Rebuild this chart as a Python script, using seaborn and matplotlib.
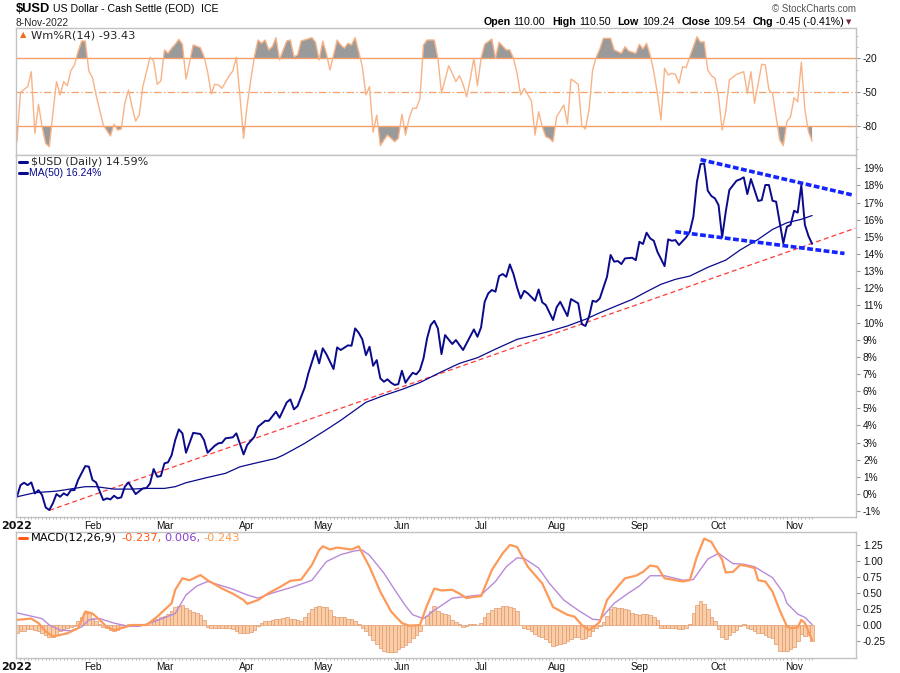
import numpy as np
import pandas as pd
import matplotlib
matplotlib.use("Agg")
import matplotlib.pyplot as plt
from matplotlib.lines import Line2D
import seaborn as sns

W, H = 900, 673

# trading sessions on the chart (x axis = session number)
sessions = pd.bdate_range("2022-01-03", "2022-11-08")
month_names = ["2022", "Feb", "Mar", "Apr", "May", "Jun", "Jul", "Aug", "Sep", "Oct", "Nov"]

# $USD (Daily), % change since first session
usd_day = [0, 1, 2, 3, 4, 5, 6, 7, 8, 9,
           10, 11, 12, 13, 14, 15, 16, 17, 19, 20,
           21, 22, 24, 25, 26, 27, 28, 29, 30, 31,
           33, 35, 36, 37, 38, 39, 40, 41, 42, 43,
           44, 45, 46, 47, 48, 49, 51, 52, 53, 55,
           56, 57, 58, 60, 61, 63, 64, 66, 67, 69,
           70, 72, 73, 75, 76, 77, 78, 80, 81, 83,
           84, 85, 86, 88, 89, 90, 92, 93, 94, 95,
           96, 97, 98, 99, 100, 101, 102, 103, 104, 105,
           106, 107, 108, 109, 110, 111, 112, 113, 114, 115,
           116, 117, 118, 119, 121, 122, 124, 127, 128, 129,
           130, 131, 132, 133, 134, 135, 136, 137, 138, 139,
           140, 141, 142, 144, 145, 146, 147, 149, 150, 151,
           153, 154, 156, 157, 158, 159, 160, 161, 162, 164,
           165, 166, 167, 168, 169, 171, 172, 173, 174, 175,
           176, 177, 178, 180, 181, 182, 183, 184, 186, 187,
           188, 189, 190, 191, 192, 193, 194, 195, 196, 197,
           198, 200, 201, 202, 203, 204, 206, 207, 208, 209,
           210, 211, 213, 214, 215, 216, 217, 218, 219, 220,
           221]
usd_pct = [-0.16, 0.52, 0.66, 0.52, 0.68, 0.04, 0.23, -0.06, -0.78, -0.93,
           -0.54, 0.00, -0.16, 0.04, -0.08, 0.23, 0.23, 0.82, 1.63, 1.60,
           0.82, 0.68, -0.35, -0.25, -0.31, -0.10, -0.25, -0.19, 0.43, 0.68,
           0.00, 0.33, 0.35, 0.62, 1.46, 1.01, 1.05, 1.79, 1.85, 2.27,
           3.15, 3.77, 3.54, 2.41, 2.99, 3.57, 3.50, 3.15, 2.41, 2.82,
           2.96, 2.99, 3.25, 3.31, 3.54, 2.31, 2.86, 3.34, 3.92, 4.27,
           4.27, 4.80, 4.45, 5.35, 5.52, 4.94, 5.13, 6.22, 7.04, 8.36,
           7.62, 8.50, 8.16, 7.29, 8.55, 8.40, 8.67, 8.65, 9.66, 9.40,
           9.02, 8.10, 8.59, 7.48, 7.81, 6.75, 6.55, 6.69, 6.49, 6.36,
           6.41, 7.19, 6.49, 6.80, 7.07, 6.98, 7.23, 7.91, 9.08, 9.85,
           10.10, 9.66, 8.16, 9.27, 8.75, 8.98, 8.40, 9.60, 9.17, 9.72,
           11.21, 11.70, 11.90, 11.80, 12.71, 12.83, 12.67, 13.39, 12.83, 12.05,
           11.41, 11.85, 11.70, 11.27, 11.93, 11.18, 11.02, 10.15, 10.89, 11.21,
           10.38, 11.37, 11.12, 9.91, 9.80, 10.34, 11.27, 11.21, 11.41, 12.67,
           13.94, 13.55, 13.59, 13.41, 13.74, 13.78, 13.64, 14.71, 14.58, 15.24,
           14.91, 14.77, 14.13, 13.29, 14.85, 14.77, 14.81, 14.52, 14.97, 15.29,
           16.17, 18.22, 19.24, 19.28, 17.69, 17.38, 17.24, 16.85, 14.97, 16.46,
           17.73, 18.27, 18.35, 18.47, 17.49, 18.37, 17.09, 17.14, 18.02, 18.02,
           17.10, 17.05, 14.62, 15.59, 15.69, 16.52, 16.41, 18.02, 15.69, 15.04,
           14.59]

# MA(50) of the same
ma_day = [0, 5, 11, 19, 22, 27, 32, 36, 41, 44,
          47, 53, 58, 62, 66, 72, 74, 77, 80, 86,
          90, 94, 97, 102, 107, 112, 118, 123, 128, 133,
          139, 147, 153, 158, 162, 166, 171, 175, 179, 183,
          187, 192, 197, 201, 206, 210, 214, 218, 221]
ma_pct = [-0.16, 0.08, 0.17, 0.43, 0.43, 0.29, 0.29, 0.33, 0.33, 0.43,
          0.66, 0.97, 1.21, 1.59, 1.79, 2.08, 2.27, 2.61, 2.96, 3.75,
          4.30, 4.90, 5.35, 5.75, 6.10, 6.50, 7.13, 7.62, 7.95, 8.45,
          9.02, 9.43, 9.80, 10.19, 10.57, 10.92, 11.35, 11.80, 12.23, 12.52,
          12.71, 13.22, 13.64, 14.23, 14.85, 15.43, 15.82, 16.02, 16.24]

# drawn trend lines (session, %)
red_day, red_pct = [9, 233], [-0.95, 15.5]
top_day, top_pct = [190, 232], [19.5, 17.45]
bot_day, bot_pct = [183, 230], [15.3, 14.03]

# Williams %R (14)
wmr_day = [0, 1, 3, 4, 5, 6, 7, 8, 9, 10,
           11, 12, 13, 14, 15, 16, 17, 18, 19, 20,
           21, 22, 24, 26, 27, 28, 29, 30, 31, 32,
           33, 34, 35, 36, 37, 38, 39, 40, 41, 42,
           43, 44, 45, 46, 47, 48, 49, 51, 52, 53,
           54, 55, 56, 57, 59, 60, 61, 62, 63, 64,
           65, 66, 67, 68, 69, 70, 71, 72, 73, 74,
           75, 76, 77, 78, 79, 82, 83, 84, 85, 86,
           87, 89, 90, 91, 92, 93, 94, 95, 96, 97,
           98, 99, 100, 101, 102, 103, 105, 106, 107, 108,
           109, 110, 111, 112, 113, 114, 116, 117, 118, 120,
           121, 122, 123, 124, 125, 126, 127, 128, 129, 130,
           132, 133, 134, 136, 137, 138, 139, 140, 141, 143,
           144, 145, 146, 147, 148, 149, 150, 152, 153, 154,
           156, 157, 158, 159, 160, 161, 162, 163, 165, 166,
           168, 169, 170, 172, 173, 174, 175, 176, 177, 178,
           179, 180, 181, 182, 183, 184, 185, 186, 187, 189,
           190, 191, 192, 193, 194, 195, 196, 197, 198, 200,
           202, 203, 204, 205, 207, 208, 209, 210, 212, 213,
           214, 215, 216, 217, 218, 219, 220, 221]
wmr_val = [-93.9, -50.1, -45.1, -31.9, -86.5, -60.8, -80.6, -95.4, -98.4, -68.8,
           -40.7, -52.5, -40.7, -44.3, -31.0, -25.9, -14.2, -4.7, -4.7, -31.3,
           -37.2, -52.5, -79.1, -88.9, -78.5, -83.6, -82.7, -59.9, -48.1, -62.9,
           -75.6, -70.3, -45.1, -31.9, -19.1, -22.4, -43.0, -40.1, -12.6, -15.6,
           -11.1, -7.6, -3.2, -7.6, -38.4, -23.5, -8.2, -10.6, -18.6, -31.9,
           -51.6, -43.0, -43.7, -46.6, -35.4, -31.3, -19.1, -54.0, -90.9, -61.4,
           -39.2, -18.6, -3.8, -6.7, -3.8, -12.6, -9.7, -1.7, -21.5, -12.6,
           -4.7, -3.8, -18.6, -17.1, -4.7, -1.7, -5.8, -21.5, -4.7, -15.6,
           -30.4, -3.8, -8.2, -11.1, -6.7, -8.2, -1.7, -14.2, -27.4, -52.5,
           -45.1, -85.6, -70.3, -97.5, -92.4, -88.0, -93.9, -90.9, -69.6, -88.0,
           -73.2, -64.3, -64.3, -56.1, -8.2, -3.8, -3.8, -20.0, -51.0, -26.6,
           -33.3, -40.7, -35.4, -43.0, -54.0, -38.4, -20.0, -44.3, -20.0, -7.6,
           -2.9, -20.0, -5.8, -12.6, -12.6, -20.0, -33.3, -52.5, -46.6, -57.9,
           -88.0, -67.3, -80.6, -89.5, -90.9, -93.9, -71.8, -61.4, -78.2, -38.4,
           -43.0, -79.7, -82.7, -65.8, -30.4, -19.1, -11.8, -2.3, -2.3, -12.6,
           -15.6, -9.7, -13.5, -15.6, -7.6, -11.8, -6.7, -17.1, -31.9, -51.0,
           -74.7, -28.9, -34.8, -33.3, -34.2, -42.2, -27.4, -28.3, -18.6, -0.9,
           -5.8, -5.3, -30.4, -35.4, -37.7, -54.0, -83.6, -67.3, -39.2, -34.2,
           -31.9, -51.0, -31.9, -59.9, -25.3, -25.9, -48.1, -51.0, -92.4, -97.5,
           -76.2, -71.8, -54.9, -58.5, -23.5, -65.8, -85.0, -93.43]

# MACD(12,26,9) line
macd_day = [0, 4, 6, 8, 10, 14, 17, 19, 21, 23,
            25, 27, 29, 32, 36, 39, 43, 44, 46, 48,
            51, 53, 57, 60, 63, 64, 67, 70, 73, 76,
            79, 82, 84, 85, 87, 89, 93, 95, 96, 98,
            101, 104, 107, 109, 112, 114, 116, 118, 121, 123,
            125, 127, 129, 132, 135, 137, 139, 142, 146, 149,
            153, 155, 157, 159, 161, 162, 164, 167, 169, 172,
            174, 176, 178, 180, 182, 185, 187, 189, 191, 193,
            194, 196, 197, 199, 201, 203, 205, 206, 208, 210,
            212, 214, 215, 217, 218, 219, 220, 221]
macd_val = [0.08, 0.10, 0.03, -0.10, -0.18, -0.13, -0.05, 0.21, 0.18, 0.08,
            -0.03, -0.08, -0.05, 0.00, 0.00, 0.13, 0.34, 0.55, 0.73, 0.70,
            0.78, 0.70, 0.57, 0.49, 0.39, 0.33, 0.39, 0.50, 0.59, 0.69,
            0.71, 0.94, 1.17, 1.23, 1.18, 1.21, 1.18, 1.23, 1.12, 0.91,
            0.52, 0.21, 0.03, -0.01, 0.00, 0.31, 0.57, 0.54, 0.55, 0.49,
            0.42, 0.44, 0.45, 0.86, 1.12, 1.25, 1.22, 0.91, 0.65, 0.28,
            0.16, 0.13, 0.00, -0.08, 0.00, 0.05, 0.39, 0.60, 0.73, 0.77,
            0.83, 0.93, 0.91, 0.73, 0.71, 0.68, 0.70, 1.07, 1.35, 1.30,
            1.20, 1.02, 0.82, 0.83, 0.94, 0.92, 0.89, 0.70, 0.68, 0.52,
            0.23, -0.02, -0.05, -0.04, 0.08, 0.03, -0.10, -0.237]

# signal line
sig_day = [0, 7, 9, 12, 15, 18, 20, 23, 27, 31,
           34, 38, 44, 47, 50, 53, 56, 60, 64, 67,
           71, 77, 82, 86, 90, 94, 96, 98, 102, 105,
           108, 110, 113, 116, 121, 124, 129, 133, 136, 139,
           141, 145, 148, 152, 156, 160, 162, 166, 170, 173,
           176, 180, 185, 188, 192, 195, 199, 202, 205, 210,
           213, 214, 217, 219, 221]
sig_val = [0.19, 0.10, 0.00, -0.08, -0.09, -0.03, 0.08, 0.10, 0.03, -0.02,
           -0.02, 0.05, 0.18, 0.47, 0.61, 0.68, 0.63, 0.56, 0.47, 0.42,
           0.50, 0.60, 0.70, 0.99, 1.10, 1.16, 1.17, 1.09, 0.81, 0.55,
           0.30, 0.16, 0.10, 0.23, 0.42, 0.44, 0.47, 0.68, 0.91, 1.05,
           1.04, 0.89, 0.65, 0.39, 0.23, 0.09, 0.08, 0.34, 0.50, 0.61,
           0.77, 0.77, 0.70, 0.71, 1.03, 1.12, 0.96, 0.95, 0.91, 0.74,
           0.50, 0.34, 0.17, 0.12, 0.006]

# histogram, one bar per session
macd_hist = [-0.12, -0.10, -0.09, -0.07, -0.07, -0.08, -0.09, -0.12, -0.16, -0.18,
             -0.18, -0.16, -0.10, -0.07, -0.05, -0.03, -0.01, 0.06, 0.13, 0.19,
             0.18, 0.11, 0.06, 0.01, -0.03, -0.05, -0.08, -0.10, -0.08, -0.05,
             0.00, 0.01, 0.02, 0.02, 0.01, 0.00, 0.00, 0.04, 0.08, 0.10,
             0.12, 0.14, 0.17, 0.22, 0.28, 0.30, 0.31, 0.26, 0.24, 0.21,
             0.18, 0.16, 0.08, -0.03, -0.05, -0.05, -0.05, -0.05, -0.05, -0.05,
             -0.06, -0.09, -0.13, -0.13, -0.13, -0.11, -0.08, -0.02, 0.03, 0.06,
             0.07, 0.08, 0.09, 0.10, 0.11, 0.12, 0.10, 0.09, 0.08, 0.07,
             0.12, 0.18, 0.25, 0.28, 0.29, 0.28, 0.28, 0.24, 0.14, 0.13,
             0.12, 0.12, 0.10, 0.09, 0.07, 0.02, -0.04, -0.10, -0.16, -0.23,
             -0.30, -0.36, -0.40, -0.42, -0.42, -0.42, -0.38, -0.34, -0.31, -0.27,
             -0.21, -0.16, -0.09, 0.00, 0.14, 0.22, 0.29, 0.22, 0.18, 0.17,
             0.16, 0.08, 0.05, 0.02, -0.03, -0.02, 0.01, 0.01, 0.00, 0.03,
             0.12, 0.19, 0.24, 0.26, 0.27, 0.29, 0.29, 0.28, 0.27, 0.22,
             0.00, -0.04, -0.07, -0.10, -0.14, -0.17, -0.19, -0.22, -0.27, -0.33,
             -0.31, -0.29, -0.28, -0.25, -0.22, -0.18, -0.19, -0.22, -0.21, -0.17,
             -0.09, -0.04, -0.01, 0.05, 0.14, 0.25, 0.28, 0.27, 0.27, 0.25,
             0.23, 0.19, 0.17, 0.16, 0.17, 0.17, 0.16, 0.13, 0.08, -0.04,
             -0.04, -0.04, -0.04, -0.05, -0.06, -0.06, -0.04, 0.01, 0.18, 0.32,
             0.38, 0.33, 0.25, 0.12, 0.06, -0.06, -0.18, -0.22, -0.16, -0.11,
             -0.08, -0.02, 0.01, -0.04, -0.07, -0.09, -0.13, -0.12, -0.15, -0.18,
             -0.21, -0.29, -0.40, -0.41, -0.40, -0.38, -0.34, -0.25, -0.14, -0.17,
             -0.15, -0.243]

NAVY = "#0a0a8c"
GRID = "#c2c2c2"
ARIAL = "Liberation Sans"

sns.set_style("white")
plt.rcParams["font.family"] = ["DejaVu Sans"]

fig = plt.figure(figsize=(9, 6.73), dpi=100)


def box(top, bottom, left=16, right=856):
    return [left / W, 1 - bottom / H, (right - left) / W, (bottom - top) / H]


ax_w = fig.add_axes(box(27.7, 155))
ax_p = fig.add_axes(box(155, 516.7))
ax_m = fig.add_axes(box(531.7, 658.3))

x_lo, x_hi = -0.25, 233.2
month_first = pd.Series(np.arange(len(sessions)), index=sessions).groupby(sessions.month).first().values

for ax in (ax_w, ax_p, ax_m):
    ax.set_xlim(x_lo, x_hi)
    for s in ax.spines.values():
        s.set_color(GRID)
        s.set_linewidth(1)
    ax.yaxis.tick_right()
    ax.tick_params(axis="y", which="major", right=True, left=False, length=3, width=0.8,
                   color="#999999", labelsize=7.3, pad=2, labelcolor="#111111",
                   labelfontfamily=ARIAL)

# ---- Williams %R panel
wd = np.array(wmr_day)
wv = np.array(wmr_val)
ax_w.fill_between(wd, wv, -20, where=wv > -20, interpolate=True, color="#9a9a9a", lw=0)
ax_w.fill_between(wd, wv, -80, where=wv < -80, interpolate=True, color="#9a9a9a", lw=0)
for lvl in (-20, -80):
    ax_w.axhline(lvl, color="#f4a06a", lw=1)
ax_w.axhline(-50, color="#f4a06a", lw=0.9, linestyle=(0, (6, 2, 1, 2)))
sns.lineplot(x=wmr_day, y=wmr_val, ax=ax_w, color="#f8b386", lw=1.0, estimator=None, sort=False)
ax_w.set_ylim(-105.7, 7.1)
ax_w.set_yticks([-20, -50, -80])
ax_w.set_yticklabels(["-20", "-50", "-80"])
ax_w.set_yticks(np.arange(-100, 1, 10), minor=True)
ax_w.tick_params(axis="y", which="minor", right=True, length=1.5, color="#aaaaaa")
ax_w.set_xticks([])

# ---- price panel
sns.lineplot(x=red_day, y=red_pct, ax=ax_p, color="#ff3b3b", lw=0.9, linestyle=(0, (4, 2.5)))
sns.lineplot(x=ma_day, y=ma_pct, ax=ax_p, color=NAVY, lw=0.9, estimator=None, sort=False)
sns.lineplot(x=usd_day, y=usd_pct, ax=ax_p, color=NAVY, lw=1.4, estimator=None, sort=False)
for d, v in ((top_day, top_pct), (bot_day, bot_pct)):
    sns.lineplot(x=d, y=v, ax=ax_p, color="#1424ff", lw=2.6, linestyle=(0, (1.6, 0.7)))
ax_p.set_ylim(-1.32, 19.77)
ax_p.set_yticks(range(-1, 20))
ax_p.set_yticklabels([f"{v}%" for v in range(-1, 20)])

# ---- MACD panel
ax_m.bar(np.arange(len(macd_hist)), macd_hist, width=1.0, color="#f9cda8",
         edgecolor="#e29a6c", linewidth=0.5)
sns.lineplot(x=sig_day, y=sig_val, ax=ax_m, color="#b98ad9", lw=1.0, estimator=None, sort=False)
sns.lineplot(x=macd_day, y=macd_val, ax=ax_m, color="#fd9a5a", lw=1.6, estimator=None, sort=False)
ax_m.set_ylim(-0.52, 1.458)
mt = [-0.25, 0, 0.25, 0.5, 0.75, 1.0, 1.25]
ax_m.set_yticks(mt)
ax_m.set_yticklabels([f"{v:.2f}" for v in mt])

for ax in (ax_p, ax_m):
    ax.set_xticks(month_first)
    ax.set_xticklabels(month_names)
    ax.set_xticks(np.arange(len(sessions)), minor=True)
    ax.tick_params(axis="x", which="major", length=0, labelsize=7.3, pad=3,
                   labelcolor="#111111", labelfontfamily=ARIAL)
    ax.tick_params(axis="x", which="minor", bottom=True, length=1.5, width=0.6, color="#aaaaaa")
    first = ax.get_xticklabels()[0]
    first.set_fontweight("bold")
    first.set_fontfamily("DejaVu Sans")
    first.set_fontsize(8)

for ax in (ax_w, ax_p, ax_m):
    ax.set_xlabel("")
    ax.set_ylabel("")

# ---- texts
rend = fig.canvas.get_renderer()


def text_row(x, y, parts, anchor="left", family=ARIAL):
    objs = []
    cur = x
    for s, color, weight, size, gap in parts:
        cur += gap
        t = fig.text(cur / W, 1 - y / H, s, color=color, fontsize=size, fontweight=weight,
                     ha="left", va="center", family=family)
        cur = t.get_window_extent(renderer=rend).x1
        objs.append(t)
    if anchor == "right":
        shift = (x - cur) / W
        for t in objs:
            px, py = t.get_position()
            t.set_position((px + shift, py))


text_row(16, 9.5, [("$USD", "black", "bold", 9.3, 0),
                   ("US Dollar - Cash Settle (EOD)", "black", "normal", 7.6, 3),
                   ("ICE", "black", "normal", 7.6, 6)])
fig.text(16 / W, 1 - 22.5 / H, "8-Nov-2022", fontsize=7.3, family=ARIAL, ha="left", va="center")
fig.text(856 / W, 1 - 9 / H, "\u00a9 StockCharts.com", fontsize=7, color="#555555",
         family=ARIAL, ha="right", va="center")
fs = 7.7
text_row(844, 22, [("Open", "black", "bold", fs, 0), ("110.00", "black", "normal", fs, 3),
                   ("High", "black", "bold", fs, 7), ("110.50", "black", "normal", fs, 3),
                   ("Low", "black", "bold", fs, 7), ("109.24", "black", "normal", fs, 3),
                   ("Close", "black", "bold", fs, 7), ("109.54", "black", "normal", fs, 3),
                   ("Chg", "black", "bold", fs, 7), ("-0.45 (-0.41%)", "black", "normal", fs, 3)],
         anchor="right")
fig.text(846 / W, 1 - 22 / H, "\u25bc", fontsize=5, color="#7a2a3a", family="DejaVu Sans",
         ha="left", va="center")

fig.text(20 / W, 1 - 35 / H, "\u25b2", fontsize=6, color="#f26b1d", ha="left", va="center")
fig.text(31 / W, 1 - 35 / H, "Wm%R(14) -93.43", fontsize=8.2, ha="left", va="center")


def dash(y, color):
    fig.add_artist(Line2D([19 / W, 27 / W], [1 - y / H, 1 - y / H], color=color, lw=2.2,
                          transform=fig.transFigure))


dash(162, NAVY)
fig.text(31 / W, 1 - 162 / H, "$USD (Daily) 14.59%", fontsize=8, ha="left", va="center")
dash(173, NAVY)
fig.text(29 / W, 1 - 173 / H, "MA(50) 16.24%", fontsize=7.5, color=NAVY, family=ARIAL,
         ha="left", va="center")
dash(538, "#ff5a1a")
text_row(31, 538, [("MACD(12,26,9)", "black", "normal", 8.2, 0),
                   ("-0.237,", "#ff5a1a", "normal", 8.2, 4),
                   ("0.006,", "#8a3fcf", "normal", 8.2, 3),
                   ("-0.243", "#ff9a4a", "normal", 8.2, 3)], family="DejaVu Sans")

fig.savefig("out.png", dpi=100)
